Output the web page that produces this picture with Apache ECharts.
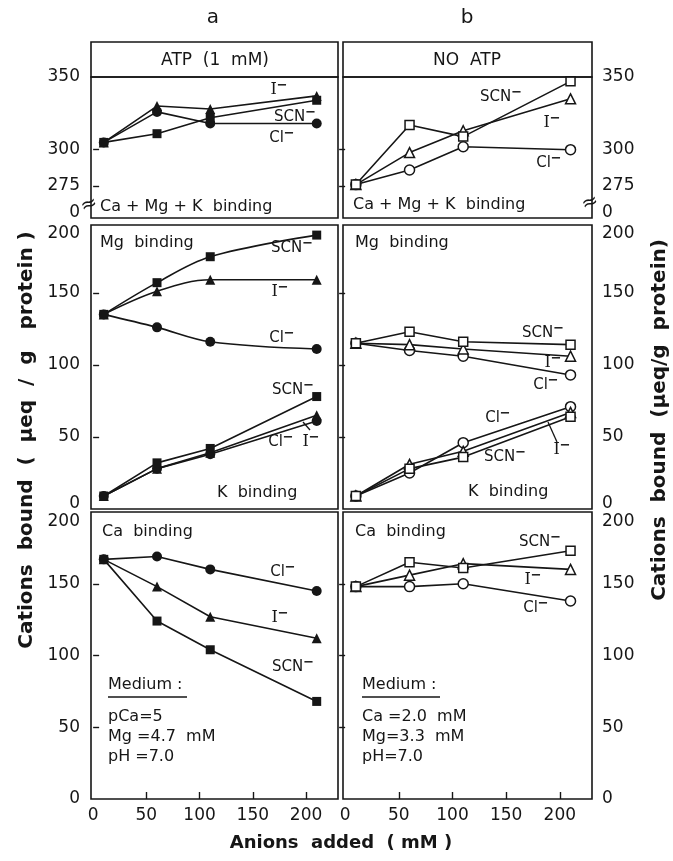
<!DOCTYPE html>
<html>
<head>
<meta charset="utf-8">
<script src="https://cdn.jsdelivr.net/npm/echarts@6/dist/echarts.min.js"></script>
<style>
  html, body { margin: 0; background: #fff; }
  #chart { width: 673px; height: 861px; }
</style>
</head>
<body>
<div id="chart"></div>
<script>
// anions added (mM)
const anionsAdded = [10, 60, 110, 210];

// Ca + Mg + K binding (top row)
const totalAtpCl = [305, 326, 318, 318];
const totalAtpI = [305, 330, 328, 337];
const totalAtpScn = [305, 311, 322, 334];
const totalNoCl = [276, 286, 302, 300];
const totalNoI = [276, 298, 313, 335];
const totalNoScn = [276, 317, 309, 347];

// Mg and K binding (middle row)
const mgAtpCl = [135, 126, 116, 111];
const mgAtpI = [135, 151, 159, 159];
const mgAtpScn = [135, 157, 175, 190];
const kAtpCl = [9, 28, 38, 61];
const kAtpI = [9, 28, 39, 65];
const kAtpScn = [9, 32, 42, 78];
const mgNoCl = [115, 110, 106, 93];
const mgNoI = [115, 114, 111, 106];
const mgNoScn = [115, 123, 116, 114];
const kNoCl = [9, 25, 46, 71];
const kNoI = [9, 31, 40, 67];
const kNoScn = [9, 28, 36, 64];

// Ca binding (bottom row)
const caAtpCl = [167, 169, 160, 145];
const caAtpI = [167, 148, 127, 112];
const caAtpScn = [167, 124, 104, 68];
const caNoCl = [148, 148, 150, 138];
const caNoI = [148, 156, 164, 160];
const caNoScn = [148, 165, 161, 173];

// tick labels
const xTicks = [0, 50, 100, 150, 200];
const topTicks = [0, 275, 300, 350];
const lowTicks = [0, 50, 100, 150, 200];

const INK = "#161616";
const FONT = "DejaVu Sans";

const chart = echarts.init(document.getElementById("chart"));

// grid boxes: column a / b, rows top / middle / bottom
const cols = [{ left: 91, width: 247 }, { left: 343, width: 249 }];
const rows = [
  { top: 77, height: 141, min: 253, max: 350 },
  { top: 225, height: 284, min: 0, max: 197 },
  { top: 512, height: 287, min: 0, max: 200 },
];

const grids = [], xAxes = [], yAxes = [];
rows.forEach((r, ri) => {
  cols.forEach((c, ci) => {
    grids.push({
      left: c.left, top: r.top, width: c.width, height: r.height,
      show: true, borderColor: INK, borderWidth: 1.6, backgroundColor: "transparent",
    });
    const bottomRow = ri === 2;
    xAxes.push({
      type: "value", gridIndex: grids.length - 1, min: -2, max: 230,
      axisLine: { show: false }, splitLine: { show: false },
      axisTick: {
        show: bottomRow, inside: true, length: 7,
        lineStyle: { color: INK, width: 1.4 },
        customValues: xTicks.filter(v => v > 0),
      },
      axisLabel: {
        show: bottomRow, color: INK, fontFamily: FONT, fontSize: 17, margin: 8,
        customValues: xTicks,
      },
    });
    // labels near the panel edges sit a little inside, as in the original
    let labelVals, fmt;
    if (ri === 0) {
      labelVals = topTicks.map(v => (v === 0 ? 257 : v));
      fmt = v => (v < 260 ? "0" : String(v));
    } else if (ri === 1) {
      labelVals = lowTicks.map(v => (v === 0 ? 4 : v === 200 ? 191 : v));
      fmt = v => String(Math.round(v / 50) * 50);
    } else {
      labelVals = lowTicks.map(v => (v === 200 ? 193 : v));
      fmt = v => String(Math.round(v / 50) * 50);
    }
    const tickVals = ri === 0 ? [275, 300] : [50, 100, 150];
    yAxes.push({
      type: "value", gridIndex: grids.length - 1, min: r.min, max: r.max,
      position: ci === 0 ? "left" : "right",
      axisLine: { show: false }, splitLine: { show: false },
      axisTick: {
        show: true, inside: true, length: 6,
        lineStyle: { color: INK, width: 1.4 },
        customValues: tickVals,
      },
      axisLabel: {
        color: INK, fontFamily: FONT, fontSize: 17, margin: ci === 0 ? 11 : 10,
        customValues: labelVals, formatter: fmt,
      },
    });
  });
});

function line(idx, values, symbol, filled, smooth) {
  return {
    type: "line", xAxisIndex: idx, yAxisIndex: idx,
    data: anionsAdded.map((x, i) => [x, values[i]]),
    symbol: symbol,
    symbolSize: symbol === "triangle" ? 10 : symbol === "rect" ? 9 : 10,
    smooth: smooth ? 0.35 : false,
    showAllSymbol: true,
    lineStyle: { color: INK, width: 1.6 },
    itemStyle: {
      color: filled ? INK : "#fff",
      borderColor: INK,
      borderWidth: filled ? 0 : 1.5,
      opacity: 1,
    },
    emphasis: { disabled: true },
    animation: false,
  };
}

const series = [
  // top a (ATP), filled
  line(0, totalAtpCl, "circle", true),
  line(0, totalAtpI, "triangle", true),
  line(0, totalAtpScn, "rect", true),
  // top b (no ATP), open
  line(1, totalNoCl, "circle", false),
  line(1, totalNoI, "triangle", false),
  line(1, totalNoScn, "rect", false),
  // middle a
  line(2, mgAtpCl, "circle", true, true),
  line(2, mgAtpI, "triangle", true, true),
  line(2, mgAtpScn, "rect", true, true),
  line(2, kAtpCl, "circle", true),
  line(2, kAtpI, "triangle", true),
  line(2, kAtpScn, "rect", true),
  // middle b
  line(3, mgNoCl, "circle", false),
  line(3, mgNoI, "triangle", false),
  line(3, mgNoScn, "rect", false),
  line(3, kNoCl, "circle", false),
  line(3, kNoI, "triangle", false),
  line(3, kNoScn, "rect", false),
  // bottom a
  line(4, caAtpCl, "circle", true),
  line(4, caAtpI, "triangle", true),
  line(4, caAtpScn, "rect", true),
  // bottom b
  line(5, caNoCl, "circle", false),
  line(5, caNoI, "triangle", false),
  line(5, caNoScn, "rect", false),
];

// text helpers for the annotations
const rich = {
  s: { fontFamily: "DejaVu Serif", fontSize: 16, fill: INK },
  m: { fontFamily: FONT, fontSize: 13, fontWeight: "bold", fill: INK, verticalAlign: "top", padding: [0, 0, 9, 0] },
};
function txt(x, y, text, opt) {
  opt = opt || {};
  return {
    type: "text", x: x, y: y, rotation: opt.rotation || 0,
    style: {
      text: text, fill: INK, rich: rich,
      font: (opt.weight || "normal") + " " + (opt.size || 16) + "px " + FONT,
      align: opt.align || "left", verticalAlign: "middle",
    },
    z: 100,
  };
}
const ion = {
  cl: "Cl{m|−}",
  i: "{s|I}{m|−}",
  scn: "SCN{m|−}",
};
function tag(x, y, key) {
  return txt(x, y, ion[key], { align: "center", size: 15 });
}
function seg(x1, y1, x2, y2, w) {
  return {
    type: "line", shape: { x1: x1, y1: y1, x2: x2, y2: y2 },
    style: { stroke: INK, lineWidth: w || 1.3 }, z: 100,
  };
}

const graphic = [
  txt(213, 18, "a", { align: "center", size: 20 }),
  txt(467, 18, "b", { align: "center", size: 20 }),
  {
    type: "rect", shape: { x: 91, y: 42, width: 247, height: 35 },
    style: { fill: "none", stroke: INK, lineWidth: 1.6 }, z: 90,
  },
  {
    type: "rect", shape: { x: 343, y: 42, width: 249, height: 35 },
    style: { fill: "none", stroke: INK, lineWidth: 1.6 }, z: 90,
  },
  txt(215, 61, "ATP  (1  mM)", { align: "center", size: 17 }),
  txt(467, 61, "NO  ATP", { align: "center", size: 17 }),

  // top row
  txt(100, 207, "Ca + Mg + K  binding"),
  txt(353, 205, "Ca + Mg + K  binding"),
  txt(89, 205, "≈", { align: "center", size: 20, rotation: 0.35 }),
  txt(590, 203, "≈", { align: "center", size: 20, rotation: 0.35 }),
  tag(279, 90, "i"), tag(295, 117, "scn"), tag(282, 138, "cl"),
  tag(501, 97, "scn"), tag(552, 123, "i"), tag(549, 163, "cl"),

  // middle row a
  txt(100, 243, "Mg  binding"),
  tag(292, 248, "scn"), tag(280, 292, "i"), tag(282, 338, "cl"),
  tag(293, 390, "scn"), tag(281, 442, "cl"), tag(311, 442, "i"),
  seg(303, 422, 310, 430),
  txt(217, 493, "K  binding"),

  // middle row b
  txt(355, 243, "Mg  binding"),
  tag(543, 333, "scn"), tag(553, 363, "i"), tag(546, 385, "cl"),
  tag(498, 418, "cl"), tag(505, 457, "scn"), tag(562, 450, "i"),
  seg(548, 422, 557, 442),
  txt(468, 492, "K  binding"),

  // bottom row a
  txt(102, 532, "Ca  binding"),
  tag(283, 572, "cl"), tag(280, 618, "i"), tag(293, 667, "scn"),
  txt(108, 685, "Medium :"), seg(108, 697, 187, 697, 1.5),
  txt(108, 717, "pCa=5"),
  txt(108, 737, "Mg =4.7  mM"),
  txt(108, 757, "pH =7.0"),

  // bottom row b
  txt(355, 532, "Ca  binding"),
  tag(540, 542, "scn"), tag(533, 580, "i"), tag(536, 608, "cl"),
  txt(362, 685, "Medium :"), seg(362, 697, 440, 697, 1.5),
  txt(362, 717, "Ca =2.0  mM"),
  txt(362, 737, "Mg=3.3  mM"),
  txt(362, 757, "pH=7.0"),

  // axis names
  txt(341, 843, "Anions  added  ( mM )", { align: "center", size: 18, weight: "bold" }),
  txt(27, 440, "Cations  bound  (  μeq  /  g   protein )", { align: "center", size: 20, weight: "bold", rotation: Math.PI / 2 }),
  txt(660, 420, "Cations  bound  (μeq/g  protein)", { align: "center", size: 20, weight: "bold", rotation: Math.PI / 2 }),
];

chart.setOption({
  animation: false,
  backgroundColor: "#fff",
  grid: grids,
  xAxis: xAxes,
  yAxis: yAxes,
  series: series,
  graphic: graphic,
});
</script>
</body>
</html>
